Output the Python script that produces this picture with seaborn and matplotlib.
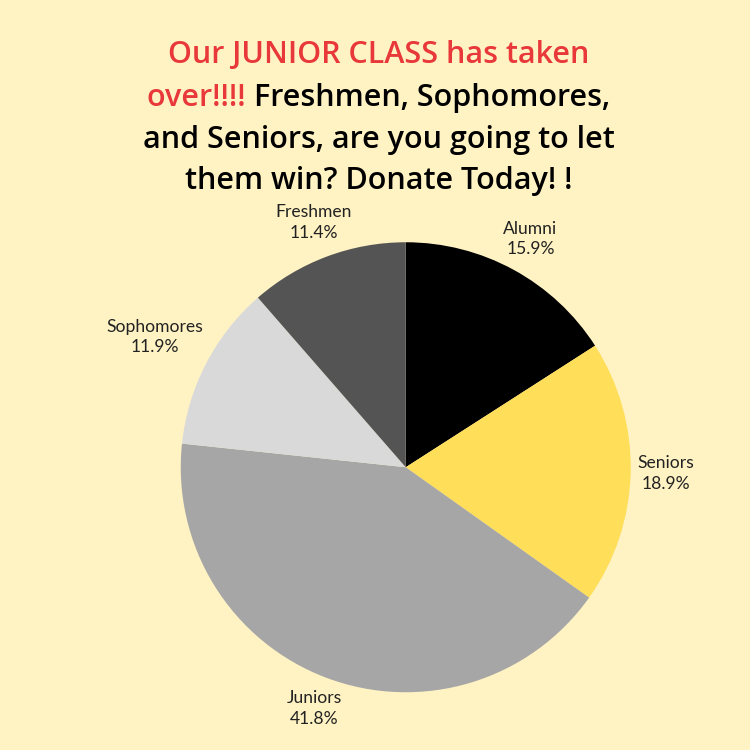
import numpy as np
import seaborn as sns
import matplotlib.pyplot as plt

# data
categories = ["Alumni", "Seniors", "Juniors", "Sophomores", "Freshmen"]
shares = [15.9, 18.9, 41.8, 11.9, 11.4]
colors = ["#000000", "#FFDE59", "#A6A6A6", "#D9D9D9", "#545454"]

title_red = "Our JUNIOR CLASS has taken"
title_red_2 = "over!!!!"
title_black_2 = "Freshmen, Sophomores,"
title_lines = ["and Seniors, are you going to let", "them win? Donate Today! !"]

BG = "#FFF3C4"
RED = "#E8383A"

sns.set_theme(style="white")
plt.rcParams["font.family"] = ["Lato", "DejaVu Sans"]

fig = plt.figure(figsize=(7.5, 7.5), dpi=100, facecolor=BG)
ax = fig.add_axes([0.541 - 0.3, 0.377 - 0.3, 0.6, 0.6])
ax.set_facecolor(BG)

labels = [f"{c}\n{s}%" for c, s in zip(categories, shares)]
wedges, texts = ax.pie(shares, labels=labels, colors=colors, startangle=90,
                       counterclock=False, labeldistance=1.16,
                       wedgeprops=dict(linewidth=0),
                       textprops=dict(fontsize=12.6, color="#222222", linespacing=1.35))
for t in texts:
    t.set_ha("center")
    t.set_va("center")
ax.set_xlim(-1, 1)
ax.set_ylim(-1, 1)
ax.set_aspect("equal")

# push each label out so its box sits just outside the rim
fig.canvas.draw()
r = fig.canvas.get_renderer()
px = ax.bbox.width / 2.0  # pixels per data unit
for w, t in zip(wedges, texts):
    ang = np.deg2rad((w.theta1 + w.theta2) / 2.0)
    bb = t.get_window_extent(r)
    hw, hh = bb.width / 2.0 / px, bb.height / 2.0 / px
    d = 1 + 6 / px + abs(np.cos(ang)) * hw + abs(np.sin(ang)) * hh
    t.set_position((d * np.cos(ang), d * np.sin(ang)))

# title, two colours
tfont = dict(family=["Open Sans", "DejaVu Sans"], fontweight="semibold", fontsize=22)
cx = 0.505
fig.text(cx, 1 - 55 / 750, title_red, color=RED, ha="center", va="center", **tfont)

t1 = fig.text(0, 1 - 98 / 750, title_red_2 + " ", color=RED, ha="left", va="center", **tfont)
t2 = fig.text(0, 1 - 98 / 750, title_black_2, color="black", ha="left", va="center", **tfont)
w1 = t1.get_window_extent(r).width / fig.bbox.width
w2 = t2.get_window_extent(r).width / fig.bbox.width
x0 = cx - (w1 + w2) / 2
t1.set_x(x0)
t2.set_x(x0 + w1)

for i, line in enumerate(title_lines):
    fig.text(cx, 1 - (140 + 41 * i) / 750, line, color="black", ha="center", va="center", **tfont)

fig.savefig("out.png", dpi=100, facecolor=BG)
